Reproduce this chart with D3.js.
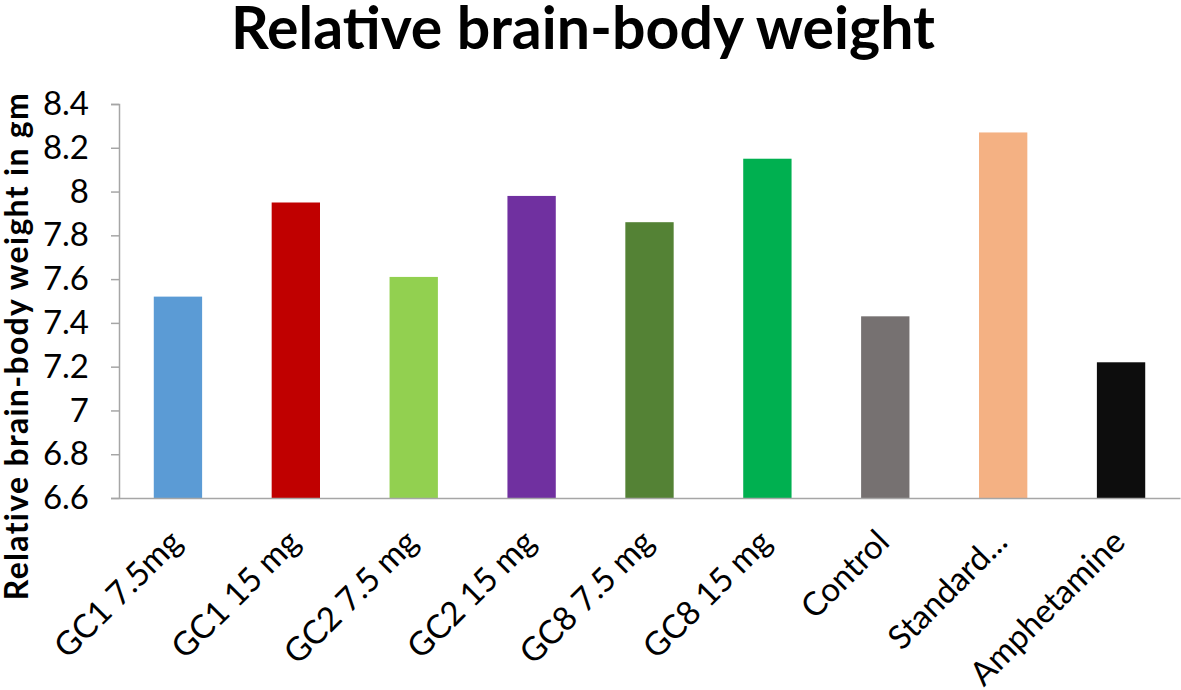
<!DOCTYPE html>
<html>
<head>
<meta charset="utf-8">
<script src="https://cdn.jsdelivr.net/npm/d3@7"></script>
<style>
  body { margin: 0; background: #fff; }
  text { font-family: Lato, "Open Sans", sans-serif; }
</style>
</head>
<body>
<div id="chart"></div>
<script>
// Data
const categories = ['GC1 7.5mg', 'GC1 15 mg', 'GC2 7.5 mg', 'GC2 15 mg', 'GC8 7.5 mg',
  'GC8 15 mg', 'Control', 'Standard...', 'Amphetamine'];
const values = [7.52, 7.95, 7.61, 7.98, 7.86, 8.15, 7.43, 8.27, 7.22];
const colors = ['#5b9bd5', '#c00000', '#92d050', '#7030a0', '#548235',
  '#00b050', '#767171', '#f4b183', '#0d0d0d'];
const yTicks = [6.6, 6.8, 7, 7.2, 7.4, 7.6, 7.8, 8, 8.2, 8.4];

const width = 1181, height = 690;
const margin = { top: 104, right: 1, bottom: 192, left: 119 };

const svg = d3.select('#chart')
  .append('svg')
  .attr('width', width)
  .attr('height', height);

const x = d3.scaleBand()
  .domain(categories)
  .range([margin.left, width - margin.right])
  .paddingInner(0.59)
  .paddingOuter(0.295);

const y = d3.scaleLinear()
  .domain([6.6, 8.4])
  .range([height - margin.bottom, margin.top]);

// Title
svg.append('text')
  .attr('x', 583)
  .attr('y', 49)
  .attr('text-anchor', 'middle')
  .attr('font-size', 59)
  .attr('font-weight', 'bold')
  .text('Relative brain-body weight');

// Bars
svg.selectAll('rect.bar')
  .data(values)
  .enter()
  .append('rect')
  .attr('class', 'bar')
  .attr('x', (d, i) => x(categories[i]))
  .attr('y', d => y(d))
  .attr('width', x.bandwidth())
  .attr('height', d => y(6.6) - y(d))
  .attr('fill', (d, i) => colors[i]);

// Y axis
const yAxis = svg.append('g')
  .attr('transform', `translate(${margin.left},0)`)
  .call(d3.axisLeft(y).tickValues(yTicks).tickSize(8).tickPadding(22)
    .tickFormat(d3.format('~g')));
yAxis.select('.domain').attr('stroke', '#a6a6a6').attr('stroke-width', 1.5);
yAxis.selectAll('.tick line').attr('stroke', '#a6a6a6').attr('stroke-width', 1.5);
yAxis.selectAll('.tick text')
  .attr('font-size', 33)
  .attr('font-family', 'Lato, "Open Sans", sans-serif')
  .attr('fill', '#000');

// X axis
const xAxis = svg.append('g')
  .attr('transform', `translate(0,${y(6.6)})`)
  .call(d3.axisBottom(x).tickSize(0).tickPadding(0));
xAxis.select('.domain').attr('stroke', '#a6a6a6').attr('stroke-width', 1.5);
xAxis.selectAll('.tick text')
  .attr('font-size', 33)
  .attr('font-family', 'Lato, "Open Sans", sans-serif')
  .attr('fill', '#000')
  .attr('text-anchor', 'end')
  .attr('dy', 0)
  .attr('transform', 'translate(6,46) rotate(-45)');

// Y axis label
svg.append('text')
  .attr('transform', `translate(28,346) rotate(-90)`)
  .attr('text-anchor', 'middle')
  .attr('font-size', 32)
  .attr('font-weight', 'bold')
  .attr('letter-spacing', 1.3)
  .text('Relative brain-body weight in gm');
</script>
</body>
</html>
